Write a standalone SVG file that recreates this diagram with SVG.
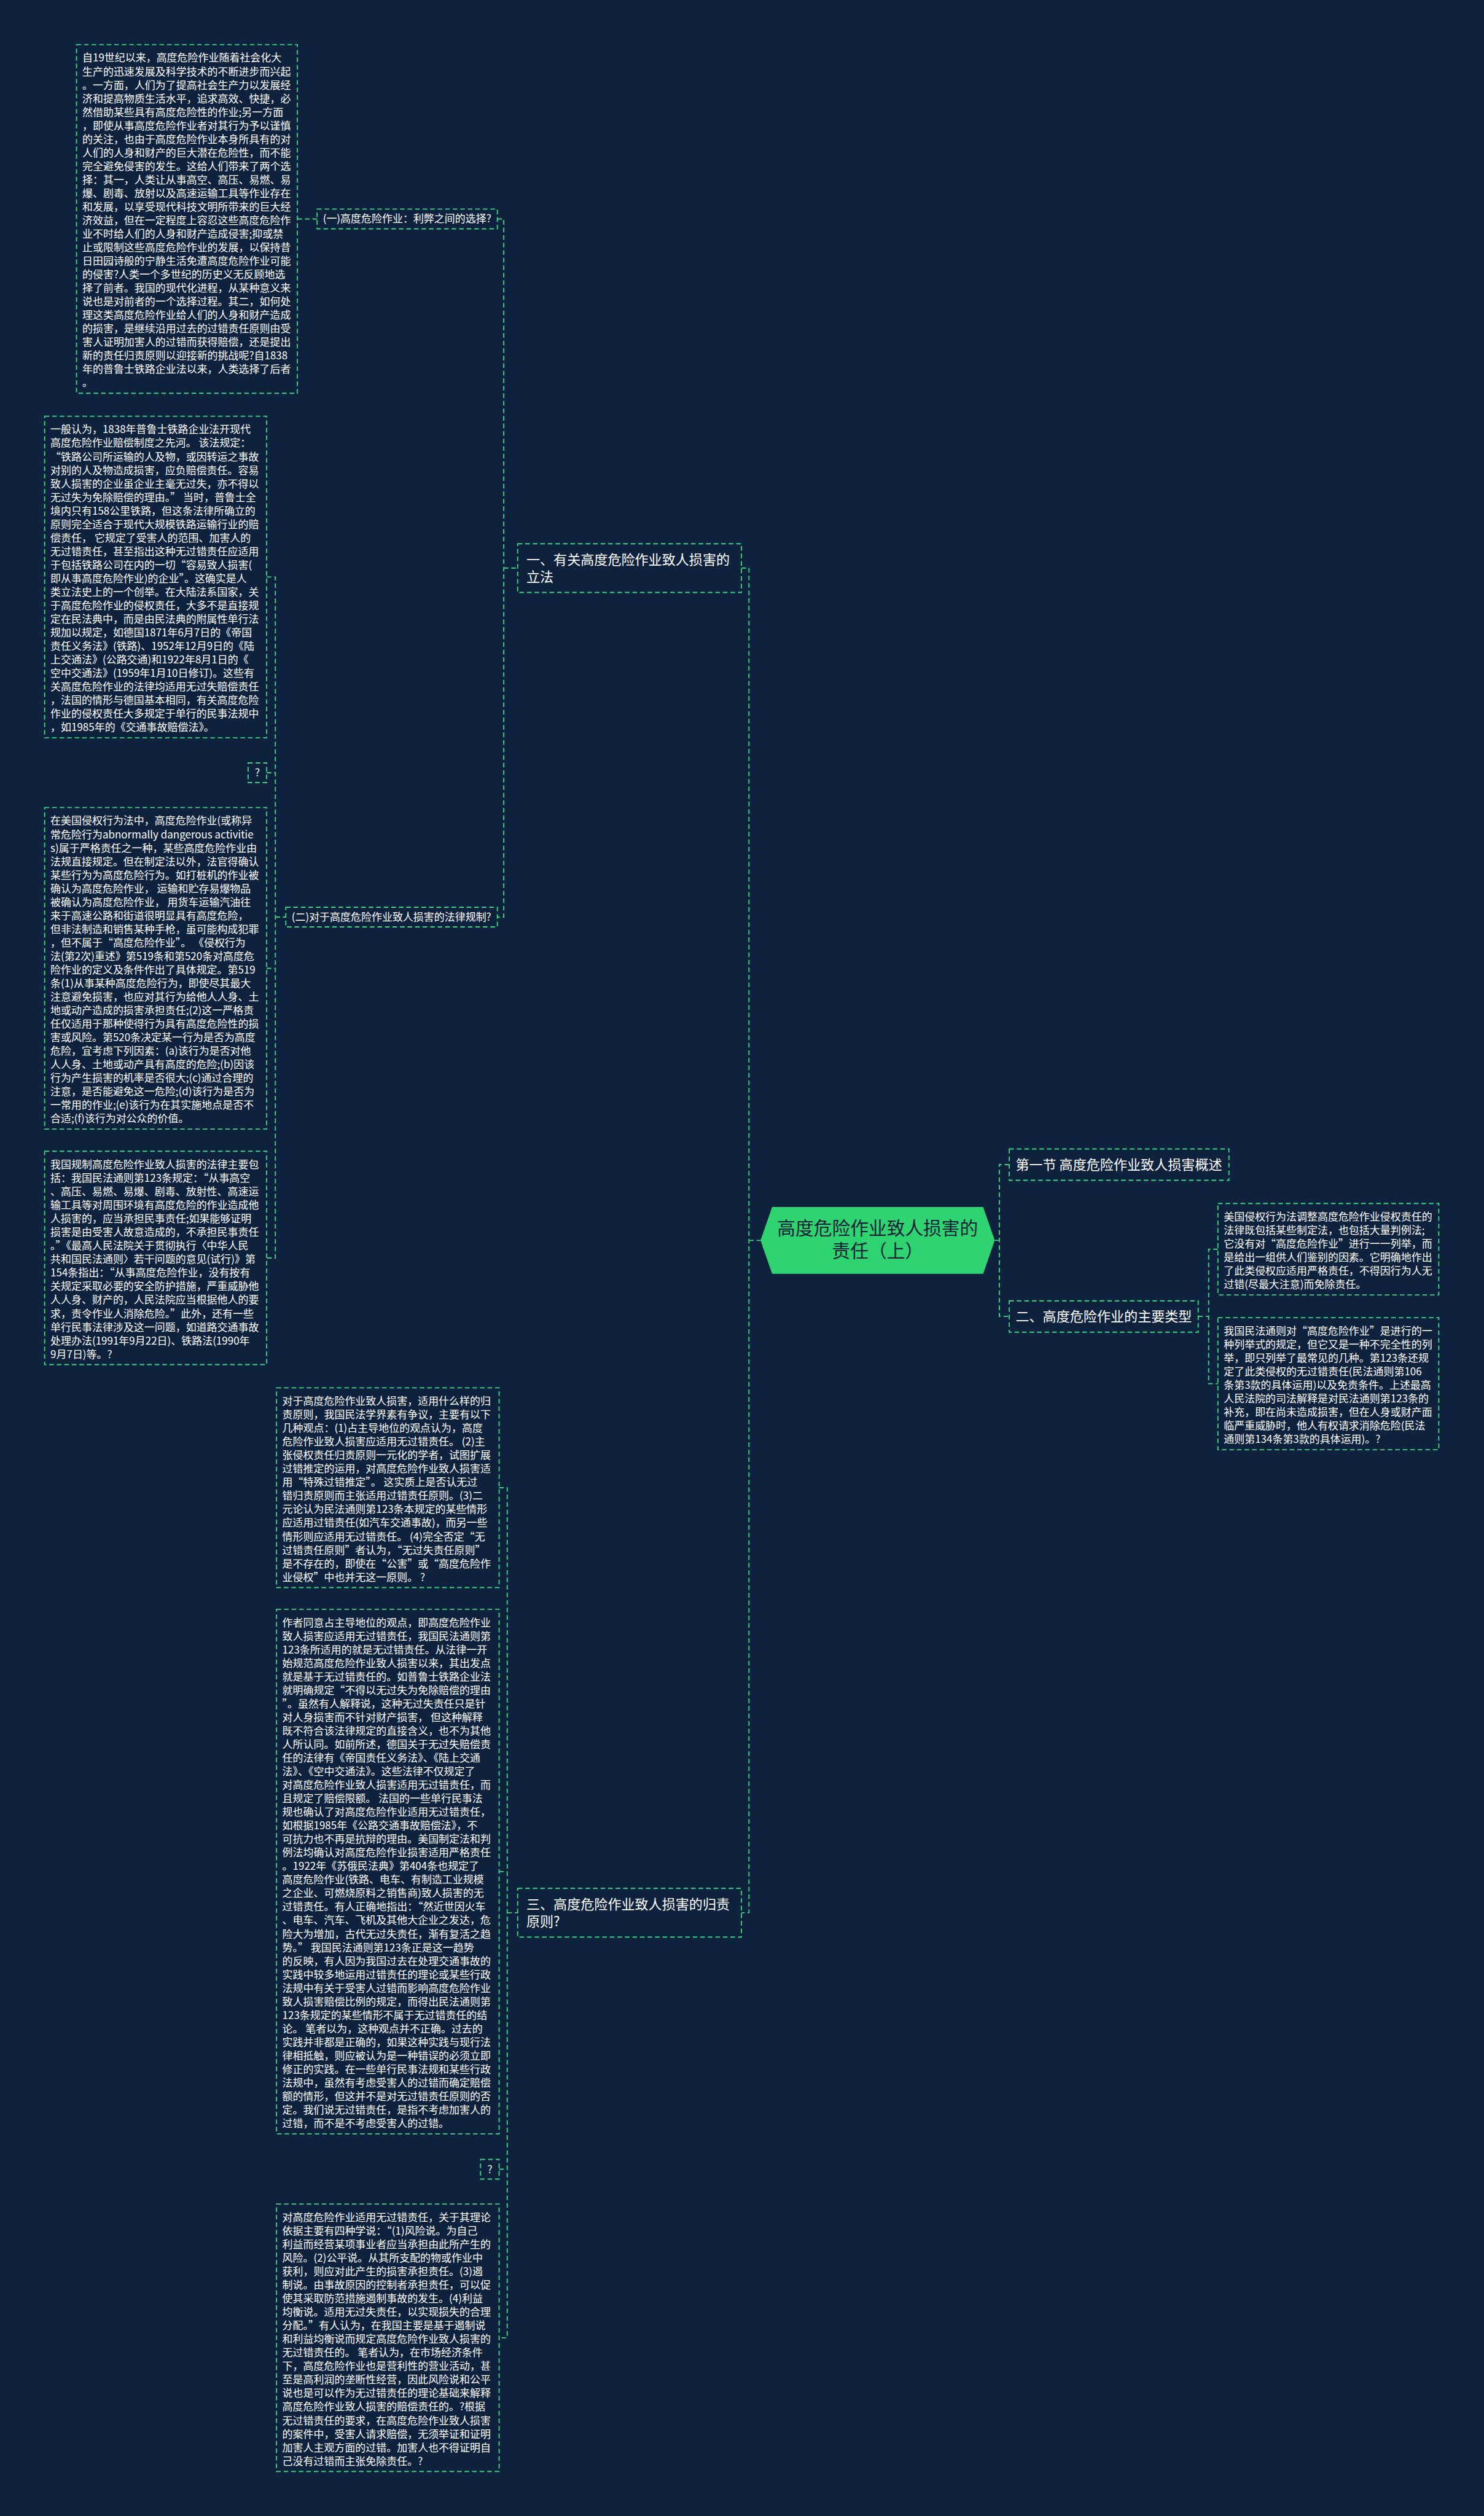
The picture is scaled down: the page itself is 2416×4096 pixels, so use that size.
<svg xmlns="http://www.w3.org/2000/svg" width="2416" height="4096" viewBox="0 0 2416 4096">
<style>
.bx{fill:none;stroke:#3ecf82;stroke-width:2;stroke-dasharray:8 5}
.ln{fill:none;stroke:#3ecf82;stroke-width:2;stroke-dasharray:8 5}
.t{font-family:"Noto Sans CJK SC","Noto Sans",sans-serif;font-size:18px;fill:#ffffff}
.h{font-family:"Noto Sans CJK SC","Noto Sans",sans-serif;font-size:23.4px;fill:#ffffff}
.ct{font-family:"Noto Sans CJK SC","Noto Sans",sans-serif;font-size:31.5px;fill:#0f223b}
</style>
<rect x="0" y="0" width="2416" height="4096" fill="#0e223e"/>
<g transform="scale(0.94375)">
<g id="connectors">
<path class="ln" d="M513 377.7H547"/>
<path class="ln" d="M858 377.7H869V1582H858M869 979.9H893"/>
<path class="ln" d="M460 995.4H475V2170H460M460 1333H475M460 1670.4H475M475 1582H493"/>
<path class="ln" d="M861 2566.3H875V4032.7H861M861 3228.5H875M861 3742H875M875 3299.5H893"/>
<path class="ln" d="M1279 979.9H1292V3299.5H1279M1292 2139.7H1312"/>
<path class="ln" d="M1716 2139.7H1724M1741 2009H1724V2270.9H1741"/>
<path class="ln" d="M2067 2270.9H2085M2101 2154.9H2085V2386.9H2101"/>
</g>

<g id="center">
<polygon points="1312,2139.7 1332,2082 1696,2082 1716,2139.7 1696,2197.4 1332,2197.4" fill="#2fd36f"/>
<text class="ct" text-anchor="middle"><tspan x="1514" y="2130">高度危险作业致人损害的</tspan><tspan x="1514" y="2169">责任（上）</tspan></text>
</g>

<g id="n1">
<rect class="bx" x="893" y="938" width="386" height="84"/>
<text class="h"><tspan x="908" y="973.5">一、有关高度危险作业致人损害的</tspan><tspan x="908" y="1003.5">立法</tspan></text>
</g>

<g id="n1a">
<rect class="bx" x="547" y="360.7" width="311" height="34"/>
<text class="t" x="557" y="384">(一)高度危险作业：利弊之间的选择?</text>
</g>

<g id="n1a1">
<rect class="bx" x="132" y="77" width="381" height="601.4"/>
<text class="t"><tspan x="142" y="106.5">自19世纪以来，高度危险作业随着社会化大</tspan><tspan x="142" dy="23.35">生产的迅速发展及科学技术的不断进步而兴起</tspan><tspan x="142" dy="23.35">。一方面，人们为了提高社会生产力以发展经</tspan><tspan x="142" dy="23.35">济和提高物质生活水平，追求高效、快捷，必</tspan><tspan x="142" dy="23.35">然借助某些具有高度危险性的作业;另一方面</tspan><tspan x="142" dy="23.35">，即使从事高度危险作业者对其行为予以谨慎</tspan><tspan x="142" dy="23.35">的关注，也由于高度危险作业本身所具有的对</tspan><tspan x="142" dy="23.35">人们的人身和财产的巨大潜在危险性，而不能</tspan><tspan x="142" dy="23.35">完全避免侵害的发生。这给人们带来了两个选</tspan><tspan x="142" dy="23.35">择：其一，人类让从事高空、高压、易燃、易</tspan><tspan x="142" dy="23.35">爆、剧毒、放射以及高速运输工具等作业存在</tspan><tspan x="142" dy="23.35">和发展，以享受现代科技文明所带来的巨大经</tspan><tspan x="142" dy="23.35">济效益，但在一定程度上容忍这些高度危险作</tspan><tspan x="142" dy="23.35">业不时给人们的人身和财产造成侵害;抑或禁</tspan><tspan x="142" dy="23.35">止或限制这些高度危险作业的发展，以保持昔</tspan><tspan x="142" dy="23.35">日田园诗般的宁静生活免遭高度危险作业可能</tspan><tspan x="142" dy="23.35">的侵害?人类一个多世纪的历史义无反顾地选</tspan><tspan x="142" dy="23.35">择了前者。我国的现代化进程，从某种意义来</tspan><tspan x="142" dy="23.35">说也是对前者的一个选择过程。其二，如何处</tspan><tspan x="142" dy="23.35">理这类高度危险作业给人们的人身和财产造成</tspan><tspan x="142" dy="23.35">的损害，是继续沿用过去的过错责任原则由受</tspan><tspan x="142" dy="23.35">害人证明加害人的过错而获得赔偿，还是提出</tspan><tspan x="142" dy="23.35">新的责任归责原则以迎接新的挑战呢?自1838</tspan><tspan x="142" dy="23.35">年的普鲁士铁路企业法以来，人类选择了后者</tspan><tspan x="142" dy="23.35">。</tspan></text>
</g>

<g id="n1b">
<rect class="bx" x="493" y="1565" width="365" height="34"/>
<text class="t" x="503" y="1588.5">(二)对于高度危险作业致人损害的法律规制?</text>
</g>

<g id="n1b1">
<rect class="bx" x="77" y="718" width="383" height="554.7"/>
<text class="t"><tspan x="87" y="747.5">一般认为，1838年普鲁士铁路企业法开现代</tspan><tspan x="87" dy="23.35">高度危险作业赔偿制度之先河。 该法规定：</tspan><tspan x="87" dy="23.35">“铁路公司所运输的人及物，或因转运之事故</tspan><tspan x="87" dy="23.35">对别的人及物造成损害，应负赔偿责任。容易</tspan><tspan x="87" dy="23.35">致人损害的企业虽企业主毫无过失，亦不得以</tspan><tspan x="87" dy="23.35">无过失为免除赔偿的理由。” 当时，普鲁士全</tspan><tspan x="87" dy="23.35">境内只有158公里铁路，但这条法律所确立的</tspan><tspan x="87" dy="23.35">原则完全适合于现代大规模铁路运输行业的赔</tspan><tspan x="87" dy="23.35">偿责任， 它规定了受害人的范围、加害人的</tspan><tspan x="87" dy="23.35">无过错责任，甚至指出这种无过错责任应适用</tspan><tspan x="87" dy="23.35">于包括铁路公司在内的一切“容易致人损害(</tspan><tspan x="87" dy="23.35">即从事高度危险作业)的企业”。这确实是人</tspan><tspan x="87" dy="23.35">类立法史上的一个创举。在大陆法系国家，关</tspan><tspan x="87" dy="23.35">于高度危险作业的侵权责任，大多不是直接规</tspan><tspan x="87" dy="23.35">定在民法典中，而是由民法典的附属性单行法</tspan><tspan x="87" dy="23.35">规加以规定，如德国1871年6月7日的《帝国</tspan><tspan x="87" dy="23.35">责任义务法》(铁路)、1952年12月9日的《陆</tspan><tspan x="87" dy="23.35">上交通法》(公路交通)和1922年8月1日的《</tspan><tspan x="87" dy="23.35">空中交通法》(1959年1月10日修订)。这些有</tspan><tspan x="87" dy="23.35">关高度危险作业的法律均适用无过失赔偿责任</tspan><tspan x="87" dy="23.35">，法国的情形与德国基本相同，有关高度危险</tspan><tspan x="87" dy="23.35">作业的侵权责任大多规定于单行的民事法规中</tspan><tspan x="87" dy="23.35">，如1985年的《交通事故赔偿法》。</tspan></text>
</g>

<g id="n1b2">
<rect class="bx" x="428" y="1316" width="32" height="34"/>
<text class="t" x="444" y="1339.5" text-anchor="middle">?</text>
</g>

<g id="n1b3">
<rect class="bx" x="77" y="1393" width="383" height="554.7"/>
<text class="t"><tspan x="87" y="1422.5">在美国侵权行为法中，高度危险作业(或称异</tspan><tspan x="87" dy="23.35">常危险行为abnormally dangerous activitie</tspan><tspan x="87" dy="23.35">s)属于严格责任之一种，某些高度危险作业由</tspan><tspan x="87" dy="23.35">法规直接规定。但在制定法以外，法官得确认</tspan><tspan x="87" dy="23.35">某些行为为高度危险行为。如打桩机的作业被</tspan><tspan x="87" dy="23.35">确认为高度危险作业， 运输和贮存易爆物品</tspan><tspan x="87" dy="23.35">被确认为高度危险作业， 用货车运输汽油往</tspan><tspan x="87" dy="23.35">来于高速公路和街道很明显具有高度危险，</tspan><tspan x="87" dy="23.35">但非法制造和销售某种手枪，虽可能构成犯罪</tspan><tspan x="87" dy="23.35">，但不属于“高度危险作业”。 《侵权行为</tspan><tspan x="87" dy="23.35">法(第2次)重述》第519条和第520条对高度危</tspan><tspan x="87" dy="23.35">险作业的定义及条件作出了具体规定。第519</tspan><tspan x="87" dy="23.35">条(1)从事某种高度危险行为，即使尽其最大</tspan><tspan x="87" dy="23.35">注意避免损害，也应对其行为给他人人身、土</tspan><tspan x="87" dy="23.35">地或动产造成的损害承担责任;(2)这一严格责</tspan><tspan x="87" dy="23.35">任仅适用于那种使得行为具有高度危险性的损</tspan><tspan x="87" dy="23.35">害或风险。第520条决定某一行为是否为高度</tspan><tspan x="87" dy="23.35">危险，宜考虑下列因素：(a)该行为是否对他</tspan><tspan x="87" dy="23.35">人人身、土地或动产具有高度的危险;(b)因该</tspan><tspan x="87" dy="23.35">行为产生损害的机率是否很大;(c)通过合理的</tspan><tspan x="87" dy="23.35">注意，是否能避免这一危险;(d)该行为是否为</tspan><tspan x="87" dy="23.35">一常用的作业;(e)该行为在其实施地点是否不</tspan><tspan x="87" dy="23.35">合适;(f)该行为对公众的价值。</tspan></text>
</g>

<g id="n1b4">
<rect class="bx" x="77" y="1986" width="383" height="367.9"/>
<text class="t"><tspan x="87" y="2015.5">我国规制高度危险作业致人损害的法律主要包</tspan><tspan x="87" dy="23.35">括：我国民法通则第123条规定：“从事高空</tspan><tspan x="87" dy="23.35">、高压、易燃、易爆、剧毒、放射性、高速运</tspan><tspan x="87" dy="23.35">输工具等对周围环境有高度危险的作业造成他</tspan><tspan x="87" dy="23.35">人损害的，应当承担民事责任;如果能够证明</tspan><tspan x="87" dy="23.35">损害是由受害人故意造成的，不承担民事责任</tspan><tspan x="87" dy="23.35">。”《最高人民法院关于贯彻执行〈中华人民</tspan><tspan x="87" dy="23.35">共和国民法通则〉若干问题的意见(试行)》第</tspan><tspan x="87" dy="23.35">154条指出：“从事高度危险作业，没有按有</tspan><tspan x="87" dy="23.35">关规定采取必要的安全防护措施，严重威胁他</tspan><tspan x="87" dy="23.35">人人身、财产的，人民法院应当根据他人的要</tspan><tspan x="87" dy="23.35">求，责令作业人消除危险。”此外，还有一些</tspan><tspan x="87" dy="23.35">单行民事法律涉及这一问题，如道路交通事故</tspan><tspan x="87" dy="23.35">处理办法(1991年9月22日)、铁路法(1990年</tspan><tspan x="87" dy="23.35">9月7日)等。?</tspan></text>
</g>

<g id="n3">
<rect class="bx" x="893" y="3257.5" width="386" height="84"/>
<text class="h"><tspan x="908" y="3293">三、高度危险作业致人损害的归责</tspan><tspan x="908" y="3323">原则?</tspan></text>
</g>

<g id="n3a">
<rect class="bx" x="477" y="2394" width="384" height="344.6"/>
<text class="t"><tspan x="487" y="2423.5">对于高度危险作业致人损害，适用什么样的归</tspan><tspan x="487" dy="23.35">责原则，我国民法学界素有争议，主要有以下</tspan><tspan x="487" dy="23.35">几种观点：(1)占主导地位的观点认为，高度</tspan><tspan x="487" dy="23.35">危险作业致人损害应适用无过错责任。 (2)主</tspan><tspan x="487" dy="23.35">张侵权责任归责原则一元化的学者，试图扩展</tspan><tspan x="487" dy="23.35">过错推定的运用，对高度危险作业致人损害适</tspan><tspan x="487" dy="23.35">用“特殊过错推定”。 这实质上是否认无过</tspan><tspan x="487" dy="23.35">错归责原则而主张适用过错责任原则。(3)二</tspan><tspan x="487" dy="23.35">元论认为民法通则第123条本规定的某些情形</tspan><tspan x="487" dy="23.35">应适用过错责任(如汽车交通事故)，而另一些</tspan><tspan x="487" dy="23.35">情形则应适用无过错责任。 (4)完全否定“无</tspan><tspan x="487" dy="23.35">过错责任原则”者认为，“无过失责任原则”</tspan><tspan x="487" dy="23.35">是不存在的，即使在“公害”或“高度危险作</tspan><tspan x="487" dy="23.35">业侵权”中也并无这一原则。 ?</tspan></text>
</g>

<g id="n3b">
<rect class="bx" x="477" y="2776" width="384" height="904.95"/>
<text class="t"><tspan x="487" y="2805.5">作者同意占主导地位的观点，即高度危险作业</tspan><tspan x="487" dy="23.35">致人损害应适用无过错责任，我国民法通则第</tspan><tspan x="487" dy="23.35">123条所适用的就是无过错责任。从法律一开</tspan><tspan x="487" dy="23.35">始规范高度危险作业致人损害以来，其出发点</tspan><tspan x="487" dy="23.35">就是基于无过错责任的。如普鲁士铁路企业法</tspan><tspan x="487" dy="23.35">就明确规定“不得以无过失为免除赔偿的理由</tspan><tspan x="487" dy="23.35">”。虽然有人解释说，这种无过失责任只是针</tspan><tspan x="487" dy="23.35">对人身损害而不针对财产损害， 但这种解释</tspan><tspan x="487" dy="23.35">既不符合该法律规定的直接含义，也不为其他</tspan><tspan x="487" dy="23.35">人所认同。如前所述，德国关于无过失赔偿责</tspan><tspan x="487" dy="23.35">任的法律有《帝国责任义务法》、《陆上交通</tspan><tspan x="487" dy="23.35">法》、《空中交通法》。这些法律不仅规定了</tspan><tspan x="487" dy="23.35">对高度危险作业致人损害适用无过错责任，而</tspan><tspan x="487" dy="23.35">且规定了赔偿限额。 法国的一些单行民事法</tspan><tspan x="487" dy="23.35">规也确认了对高度危险作业适用无过错责任，</tspan><tspan x="487" dy="23.35">如根据1985年《公路交通事故赔偿法》，不</tspan><tspan x="487" dy="23.35">可抗力也不再是抗辩的理由。美国制定法和判</tspan><tspan x="487" dy="23.35">例法均确认对高度危险作业损害适用严格责任</tspan><tspan x="487" dy="23.35">。1922年《苏俄民法典》第404条也规定了</tspan><tspan x="487" dy="23.35">高度危险作业(铁路、电车、有制造工业规模</tspan><tspan x="487" dy="23.35">之企业、可燃烧原料之销售商)致人损害的无</tspan><tspan x="487" dy="23.35">过错责任。有人正确地指出：“然近世因火车</tspan><tspan x="487" dy="23.35">、电车、汽车、飞机及其他大企业之发达，危</tspan><tspan x="487" dy="23.35">险大为增加，古代无过失责任，渐有复活之趋</tspan><tspan x="487" dy="23.35">势。” 我国民法通则第123条正是这一趋势</tspan><tspan x="487" dy="23.35">的反映，有人因为我国过去在处理交通事故的</tspan><tspan x="487" dy="23.35">实践中较多地运用过错责任的理论或某些行政</tspan><tspan x="487" dy="23.35">法规中有关于受害人过错而影响高度危险作业</tspan><tspan x="487" dy="23.35">致人损害赔偿比例的规定，而得出民法通则第</tspan><tspan x="487" dy="23.35">123条规定的某些情形不属于无过错责任的结</tspan><tspan x="487" dy="23.35">论。 笔者以为，这种观点并不正确。过去的</tspan><tspan x="487" dy="23.35">实践并非都是正确的，如果这种实践与现行法</tspan><tspan x="487" dy="23.35">律相抵触，则应被认为是一种错误的必须立即</tspan><tspan x="487" dy="23.35">修正的实践。在一些单行民事法规和某些行政</tspan><tspan x="487" dy="23.35">法规中，虽然有考虑受害人的过错而确定赔偿</tspan><tspan x="487" dy="23.35">额的情形，但这并不是对无过错责任原则的否</tspan><tspan x="487" dy="23.35">定。我们说无过错责任，是指不考虑加害人的</tspan><tspan x="487" dy="23.35">过错，而不是不考虑受害人的过错。</tspan></text>
</g>

<g id="n3c">
<rect class="bx" x="829" y="3725" width="32" height="34"/>
<text class="t" x="845" y="3748.5" text-anchor="middle">?</text>
</g>

<g id="n3d">
<rect class="bx" x="477" y="3802" width="384" height="461.3"/>
<text class="t"><tspan x="487" y="3831.5">对高度危险作业适用无过错责任，关于其理论</tspan><tspan x="487" dy="23.35">依据主要有四种学说：“(1)风险说。为自己</tspan><tspan x="487" dy="23.35">利益而经营某项事业者应当承担由此所产生的</tspan><tspan x="487" dy="23.35">风险。(2)公平说。从其所支配的物或作业中</tspan><tspan x="487" dy="23.35">获利，则应对此产生的损害承担责任。(3)遏</tspan><tspan x="487" dy="23.35">制说。由事故原因的控制者承担责任，可以促</tspan><tspan x="487" dy="23.35">使其采取防范措施遏制事故的发生。(4)利益</tspan><tspan x="487" dy="23.35">均衡说。适用无过失责任，以实现损失的合理</tspan><tspan x="487" dy="23.35">分配。”有人认为，在我国主要是基于遏制说</tspan><tspan x="487" dy="23.35">和利益均衡说而规定高度危险作业致人损害的</tspan><tspan x="487" dy="23.35">无过错责任的。 笔者认为，在市场经济条件</tspan><tspan x="487" dy="23.35">下，高度危险作业也是营利性的营业活动，甚</tspan><tspan x="487" dy="23.35">至是高利润的垄断性经营，因此风险说和公平</tspan><tspan x="487" dy="23.35">说也是可以作为无过错责任的理论基础来解释</tspan><tspan x="487" dy="23.35">高度危险作业致人损害的赔偿责任的。?根据</tspan><tspan x="487" dy="23.35">无过错责任的要求，在高度危险作业致人损害</tspan><tspan x="487" dy="23.35">的案件中，受害人请求赔偿，无须举证和证明</tspan><tspan x="487" dy="23.35">加害人主观方面的过错。加害人也不得证明自</tspan><tspan x="487" dy="23.35">己没有过错而主张免除责任。?</tspan></text>
</g>

<g id="n2">
<rect class="bx" x="1741" y="1982" width="379" height="54"/>
<text class="h" x="1752" y="2017.5">第一节 高度危险作业致人损害概述</text>
</g>

<g id="n4">
<rect class="bx" x="1741" y="2244" width="326" height="54"/>
<text class="h" x="1752" y="2279.4">二、高度危险作业的主要类型</text>
</g>

<g id="n4a">
<rect class="bx" x="2101" y="2076" width="381" height="157.75"/>
<text class="t"><tspan x="2111" y="2105.5">美国侵权行为法调整高度危险作业侵权责任的</tspan><tspan x="2111" dy="23.35">法律既包括某些制定法，也包括大量判例法;</tspan><tspan x="2111" dy="23.35">它没有对“高度危险作业”进行一一列举，而</tspan><tspan x="2111" dy="23.35">是给出一组供人们鉴别的因素。它明确地作出</tspan><tspan x="2111" dy="23.35">了此类侵权应适用严格责任，不得因行为人无</tspan><tspan x="2111" dy="23.35">过错(尽最大注意)而免除责任。</tspan></text>
</g>

<g id="n4b">
<rect class="bx" x="2101" y="2273" width="381" height="227.8"/>
<text class="t"><tspan x="2111" y="2302.5">我国民法通则对“高度危险作业”是进行的一</tspan><tspan x="2111" dy="23.35">种列举式的规定，但它又是一种不完全性的列</tspan><tspan x="2111" dy="23.35">举，即只列举了最常见的几种。第123条还规</tspan><tspan x="2111" dy="23.35">定了此类侵权的无过错责任(民法通则第106</tspan><tspan x="2111" dy="23.35">条第3款的具体运用)以及免责条件。上述最高</tspan><tspan x="2111" dy="23.35">人民法院的司法解释是对民法通则第123条的</tspan><tspan x="2111" dy="23.35">补充，即在尚未造成损害，但在人身或财产面</tspan><tspan x="2111" dy="23.35">临严重威胁时，他人有权请求消除危险(民法</tspan><tspan x="2111" dy="23.35">通则第134条第3款的具体运用)。?</tspan></text>
</g>
</g>
</svg>
